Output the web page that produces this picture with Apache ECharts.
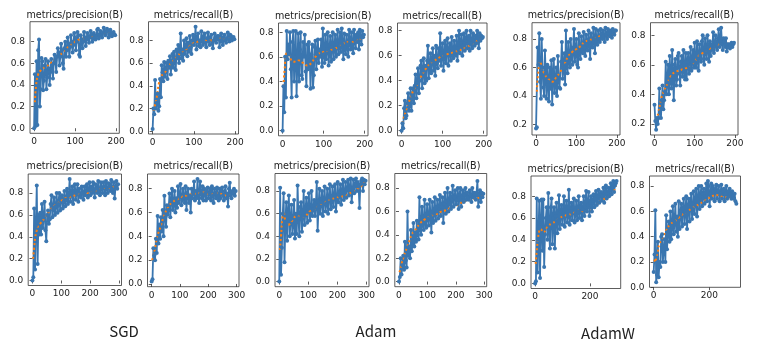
<!DOCTYPE html>
<html>
<head>
<meta charset="utf-8">
<script src="https://cdn.jsdelivr.net/npm/echarts@6/dist/echarts.min.js"></script>
<style>
  html, body { margin: 0; padding: 0; background: #fff; }
  #chart { width: 760px; height: 352px; }
</style>
</head>
<body>
<div id="chart"></div>
<script>
const ep200 = [0,2,4,6,8,10,12,14,16,18,20,22,24,26,28,30,32,34,36,38,40,42,44,46,48,50,52,54,56,58,60,62,64,66,68,70,72,74,76,78,80,82,84,86,88,90,92,94,96,98,100,102,104,106,108,110,112,114,116,118,120,122,124,126,128,130,132,134,136,138,140,142,144,146,148,150,152,154,156,158,160,162,164,166,168,170,172,174,176,178,180,182,184,186,188,190,192,194,196,198]
const ep300 = [0,3,6,9,12,15,18,21,24,27,30,33,36,39,42,45,48,51,54,57,60,63,66,69,72,75,78,81,84,87,90,93,96,99,102,105,108,111,114,117,120,123,126,129,132,135,138,141,144,147,150,153,156,159,162,165,168,171,174,177,180,183,186,189,192,195,198,201,204,207,210,213,216,219,222,225,228,231,234,237,240,243,246,249,252,255,258,261,264,267,270,273,276,279,282,285,288,291,294,297]
// epochs for the smoothed (orange) curve
const sm200 = [2,5,10,15,20,30,40,50,60,70,80,90,100,110,120,130,140,150,160,170,180,190,198]
const sm300 = [2,6,10,15,20,30,45,60,75,90,105,120,135,150,165,180,195,210,225,240,255,270,285,295]

// SGD, 200 epochs
const sgdPrecA = [0.00,0.50,0.02,0.62,0.03,0.72,0.82,0.20,0.36,0.65,
  0.62,0.35,0.44,0.58,0.64,0.36,0.47,0.62,0.55,0.40,
  0.52,0.64,0.58,0.46,0.60,0.68,0.63,0.52,0.66,0.74,
  0.70,0.58,0.66,0.78,0.72,0.60,0.55,0.74,0.80,0.66,
  0.72,0.84,0.78,0.66,0.75,0.86,0.80,0.70,0.77,0.88,
  0.84,0.72,0.80,0.89,0.86,0.68,0.66,0.86,0.82,0.74,
  0.80,0.89,0.84,0.76,0.82,0.88,0.85,0.79,0.84,0.90,
  0.87,0.80,0.83,0.88,0.86,0.82,0.85,0.91,0.92,0.83,
  0.87,0.90,0.86,0.84,0.88,0.93,0.90,0.86,0.89,0.92,
  0.90,0.84,0.87,0.91,0.88,0.85,0.87,0.89,0.87,0.86]
const sgdPrecASm = [0.24,0.40,0.50,0.53,0.55,0.57,0.60,0.63,0.67,0.70,0.74,0.77,0.80,0.82,0.83,0.84,0.84,0.85,0.86,0.88,0.88,0.87,0.865]
const sgdRecA = [0.02,0.20,0.15,0.45,0.20,0.25,0.33,0.18,0.22,0.46,
  0.30,0.58,0.52,0.44,0.61,0.48,0.55,0.60,0.46,0.62,
  0.56,0.66,0.50,0.60,0.68,0.56,0.70,0.62,0.54,0.72,
  0.64,0.76,0.60,0.70,0.86,0.64,0.72,0.62,0.80,0.68,
  0.74,0.82,0.66,0.78,0.70,0.84,0.74,0.68,0.80,0.85,
  0.76,0.80,0.92,0.72,0.82,0.86,0.75,0.80,0.74,0.88,
  0.80,0.76,0.84,0.86,0.78,0.74,0.82,0.87,0.79,0.76,
  0.83,0.85,0.77,0.73,0.80,0.86,0.82,0.78,0.84,0.81,
  0.84,0.74,0.80,0.86,0.79,0.76,0.83,0.85,0.80,0.78,
  0.82,0.87,0.81,0.79,0.85,0.84,0.80,0.82,0.83,0.81]
const sgdRecASm = [0.18,0.22,0.30,0.42,0.48,0.52,0.58,0.62,0.66,0.70,0.72,0.75,0.78,0.79,0.80,0.80,0.80,0.81,0.82,0.82,0.82,0.82,0.81]
// Adam, 200 epochs
const adamPrecA = [0.00,0.36,0.15,0.60,0.27,0.81,0.58,0.70,0.62,0.80,
  0.50,0.27,0.72,0.81,0.40,0.60,0.81,0.28,0.55,0.79,
  0.40,0.66,0.80,0.45,0.42,0.72,0.60,0.78,0.48,0.36,
  0.70,0.50,0.72,0.58,0.34,0.62,0.70,0.35,0.45,0.68,
  0.73,0.50,0.62,0.74,0.55,0.66,0.60,0.74,0.52,0.83,
  0.62,0.55,0.78,0.58,0.66,0.80,0.53,0.64,0.77,0.56,
  0.68,0.80,0.58,0.66,0.78,0.60,0.70,0.82,0.62,0.68,
  0.80,0.64,0.83,0.70,0.58,0.79,0.66,0.62,0.78,0.70,
  0.60,0.82,0.72,0.66,0.80,0.70,0.63,0.82,0.74,0.67,
  0.78,0.72,0.80,0.66,0.82,0.76,0.70,0.81,0.76,0.78]
const adamPrecASm = [0.36,0.50,0.63,0.62,0.58,0.56,0.57,0.55,0.53,0.55,0.60,0.63,0.64,0.65,0.66,0.67,0.69,0.71,0.72,0.72,0.73,0.75,0.77]
const adamRecA = [0.00,0.06,0.02,0.18,0.24,0.10,0.12,0.22,0.30,0.16,
  0.20,0.34,0.16,0.28,0.34,0.22,0.36,0.45,0.26,0.38,
  0.50,0.30,0.40,0.52,0.56,0.34,0.48,0.58,0.38,0.52,
  0.40,0.56,0.68,0.42,0.50,0.62,0.46,0.56,0.66,0.48,
  0.60,0.44,0.68,0.54,0.50,0.66,0.56,0.78,0.52,0.62,
  0.70,0.48,0.60,0.72,0.54,0.66,0.74,0.52,0.64,0.70,
  0.56,0.75,0.60,0.58,0.72,0.62,0.60,0.76,0.56,0.66,
  0.80,0.62,0.70,0.77,0.60,0.68,0.78,0.64,0.72,0.80,
  0.66,0.74,0.76,0.64,0.80,0.70,0.66,0.78,0.72,0.68,
  0.76,0.70,0.80,0.74,0.66,0.78,0.72,0.76,0.74,0.75]
const adamRecASm = [0.06,0.10,0.15,0.20,0.25,0.33,0.38,0.45,0.50,0.54,0.56,0.58,0.60,0.61,0.62,0.63,0.64,0.66,0.67,0.69,0.71,0.73,0.75]
// AdamW, 200 epochs
const adamwPrecA = [0.17,0.18,0.74,0.62,0.84,0.50,0.38,0.80,0.60,0.46,
  0.40,0.72,0.56,0.38,0.62,0.50,0.36,0.60,0.45,0.65,
  0.34,0.55,0.66,0.42,0.48,0.60,0.40,0.68,0.52,0.46,
  0.45,0.64,0.78,0.52,0.60,0.70,0.48,0.86,0.62,0.56,
  0.78,0.64,0.60,0.80,0.68,0.62,0.74,0.87,0.64,0.70,
  0.80,0.62,0.60,0.84,0.70,0.66,0.82,0.72,0.70,0.85,
  0.74,0.68,0.83,0.76,0.72,0.86,0.78,0.66,0.84,0.76,
  0.74,0.88,0.80,0.70,0.87,0.78,0.76,0.86,0.80,0.78,
  0.87,0.81,0.80,0.86,0.82,0.78,0.88,0.83,0.80,0.87,
  0.84,0.82,0.86,0.84,0.81,0.87,0.85,0.83,0.86,0.86]
const adamwPrecASm = [0.43,0.55,0.64,0.60,0.56,0.52,0.50,0.53,0.57,0.62,0.68,0.71,0.73,0.75,0.78,0.79,0.80,0.81,0.82,0.82,0.83,0.84,0.85]
const adamwRecA = [0.33,0.22,0.16,0.24,0.20,0.24,0.44,0.28,0.24,0.36,
  0.46,0.30,0.36,0.42,0.62,0.40,0.48,0.60,0.40,0.66,
  0.50,0.44,0.70,0.52,0.36,0.60,0.64,0.46,0.50,0.66,
  0.68,0.54,0.46,0.62,0.66,0.52,0.70,0.56,0.50,0.68,
  0.50,0.62,0.68,0.54,0.60,0.72,0.56,0.62,0.70,0.58,
  0.75,0.60,0.58,0.76,0.64,0.56,0.74,0.66,0.62,0.76,
  0.80,0.64,0.60,0.78,0.70,0.64,0.80,0.72,0.62,0.76,
  0.66,0.74,0.70,0.82,0.68,0.72,0.80,0.74,0.70,0.78,
  0.84,0.72,0.76,0.85,0.74,0.70,0.78,0.76,0.72,0.78,
  0.69,0.74,0.72,0.74,0.71,0.73,0.75,0.72,0.74,0.75]
const adamwRecASm = [0.23,0.24,0.28,0.35,0.40,0.46,0.52,0.55,0.56,0.57,0.58,0.60,0.62,0.66,0.68,0.70,0.71,0.72,0.74,0.77,0.75,0.73,0.74]

// SGD, 300 epochs
const sgdPrecB = [0.00,0.03,0.66,0.10,0.50,0.87,0.15,0.60,0.42,0.62,
  0.42,0.70,0.48,0.58,0.72,0.46,0.36,0.60,0.64,0.52,
  0.56,0.70,0.78,0.58,0.66,0.76,0.60,0.68,0.80,0.62,
  0.70,0.80,0.64,0.76,0.78,0.66,0.72,0.82,0.68,0.74,
  0.84,0.70,0.78,0.93,0.72,0.80,0.86,0.70,0.82,0.88,
  0.74,0.80,0.88,0.72,0.84,0.78,0.76,0.86,0.80,0.74,
  0.86,0.78,0.82,0.88,0.76,0.84,0.90,0.78,0.86,0.80,
  0.90,0.82,0.76,0.88,0.84,0.80,0.91,0.82,0.78,0.90,
  0.84,0.80,0.90,0.86,0.78,0.91,0.84,0.80,0.89,0.86,
  0.82,0.92,0.84,0.80,0.90,0.75,0.86,0.91,0.84,0.88]
const sgdPrecBSm = [0.20,0.30,0.40,0.46,0.50,0.53,0.58,0.64,0.68,0.71,0.74,0.76,0.77,0.78,0.79,0.80,0.80,0.81,0.82,0.84,0.85,0.85,0.86,0.88]
const sgdRecB = [0.02,0.04,0.30,0.24,0.20,0.38,0.26,0.57,0.34,0.50,
  0.38,0.56,0.44,0.62,0.40,0.74,0.56,0.48,0.66,0.58,
  0.62,0.76,0.56,0.70,0.80,0.62,0.66,0.78,0.60,0.72,
  0.64,0.82,0.68,0.74,0.84,0.66,0.70,0.80,0.72,0.68,
  0.82,0.62,0.76,0.80,0.68,0.74,0.60,0.80,0.72,0.76,
  0.86,0.70,0.78,0.72,0.88,0.74,0.68,0.86,0.76,0.72,
  0.82,0.70,0.80,0.76,0.70,0.78,0.81,0.72,0.76,0.80,
  0.70,0.82,0.74,0.68,0.80,0.76,0.72,0.81,0.74,0.70,
  0.80,0.72,0.78,0.81,0.74,0.70,0.78,0.82,0.72,0.76,
  0.65,0.80,0.85,0.74,0.72,0.78,0.76,0.80,0.74,0.78]
const sgdRecBSm = [0.20,0.24,0.28,0.34,0.40,0.47,0.58,0.65,0.69,0.71,0.73,0.74,0.75,0.76,0.76,0.77,0.76,0.75,0.76,0.76,0.75,0.74,0.76,0.77]
// Adam, 300 epochs
const adamPrecB = [0.00,0.83,0.06,0.30,0.60,0.78,0.17,0.52,0.70,0.36,
  0.62,0.76,0.40,0.55,0.68,0.42,0.50,0.72,0.38,0.60,
  0.42,0.85,0.56,0.40,0.66,0.70,0.44,0.58,0.80,0.50,
  0.62,0.74,0.52,0.66,0.78,0.54,0.60,0.80,0.58,0.64,
  0.72,0.58,0.68,0.88,0.45,0.66,0.82,0.60,0.70,0.80,
  0.58,0.72,0.84,0.62,0.68,0.82,0.60,0.74,0.86,0.64,
  0.70,0.84,0.66,0.76,0.86,0.62,0.72,0.88,0.70,0.76,
  0.86,0.68,0.80,0.90,0.72,0.78,0.88,0.74,0.82,0.90,
  0.76,0.84,0.91,0.70,0.80,0.90,0.78,0.86,0.91,0.80,
  0.88,0.84,0.65,0.86,0.89,0.91,0.80,0.90,0.86,0.89]
const adamPrecBSm = [0.28,0.40,0.55,0.62,0.55,0.50,0.54,0.58,0.57,0.58,0.62,0.64,0.67,0.70,0.72,0.73,0.74,0.75,0.76,0.78,0.79,0.82,0.85,0.88]
const adamRecB = [0.00,0.04,0.20,0.06,0.14,0.22,0.10,0.34,0.18,0.12,
  0.60,0.22,0.30,0.20,0.44,0.26,0.34,0.50,0.30,0.42,
  0.34,0.52,0.40,0.36,0.72,0.44,0.40,0.64,0.48,0.44,
  0.70,0.50,0.46,0.66,0.54,0.48,0.70,0.56,0.42,0.68,
  0.50,0.58,0.72,0.52,0.60,0.70,0.54,0.62,0.74,0.56,
  0.64,0.72,0.50,0.66,0.76,0.58,0.64,0.80,0.60,0.68,
  0.76,0.62,0.70,0.82,0.64,0.72,0.78,0.66,0.70,0.80,
  0.62,0.74,0.80,0.64,0.72,0.78,0.68,0.74,0.80,0.70,
  0.76,0.72,0.70,0.78,0.74,0.68,0.80,0.72,0.76,0.74,
  0.70,0.76,0.86,0.64,0.74,0.78,0.68,0.76,0.72,0.75]
const adamRecBSm = [0.08,0.12,0.16,0.20,0.24,0.30,0.40,0.45,0.50,0.53,0.55,0.57,0.58,0.60,0.61,0.63,0.64,0.66,0.68,0.69,0.70,0.71,0.72,0.73]
// AdamW, 300 epochs
const adamwPrecB = [0.00,0.02,0.78,0.10,0.40,0.76,0.05,0.55,0.77,0.30,
  0.77,0.15,0.45,0.60,0.70,0.40,0.83,0.50,0.32,0.70,
  0.78,0.36,0.60,0.70,0.32,0.62,0.74,0.46,0.58,0.81,
  0.50,0.66,0.72,0.54,0.64,0.80,0.52,0.68,0.76,0.56,
  0.62,0.86,0.54,0.66,0.74,0.58,0.70,0.78,0.56,0.64,
  0.76,0.58,0.66,0.80,0.60,0.70,0.74,0.58,0.68,0.80,
  0.62,0.70,0.85,0.66,0.72,0.84,0.62,0.74,0.80,0.66,
  0.76,0.82,0.70,0.78,0.85,0.72,0.80,0.86,0.74,0.82,
  0.84,0.76,0.80,0.88,0.74,0.84,0.90,0.78,0.82,0.88,
  0.80,0.86,0.92,0.82,0.88,0.94,0.84,0.90,0.92,0.94]
const adamwPrecBSm = [0.18,0.30,0.40,0.48,0.50,0.47,0.52,0.55,0.57,0.60,0.62,0.63,0.64,0.66,0.67,0.66,0.66,0.68,0.72,0.76,0.78,0.80,0.84,0.90]
const adamwRecB = [0.12,0.26,0.61,0.04,0.10,0.36,0.08,0.20,0.16,0.40,
  0.42,0.20,0.30,0.38,0.20,0.57,0.30,0.44,0.52,0.36,
  0.60,0.38,0.48,0.64,0.42,0.52,0.66,0.44,0.56,0.40,
  0.68,0.46,0.58,0.66,0.48,0.62,0.70,0.50,0.60,0.72,
  0.46,0.64,0.70,0.52,0.66,0.74,0.54,0.62,0.76,0.58,
  0.68,0.78,0.56,0.70,0.80,0.62,0.72,0.80,0.64,0.74,
  0.78,0.66,0.72,0.82,0.68,0.84,0.80,0.64,0.74,0.82,
  0.70,0.80,0.76,0.68,0.78,0.81,0.70,0.76,0.80,0.68,
  0.74,0.81,0.70,0.76,0.78,0.68,0.74,0.80,0.70,0.76,
  0.72,0.78,0.74,0.70,0.76,0.72,0.70,0.74,0.68,0.66]
const adamwRecBSm = [0.22,0.20,0.24,0.28,0.34,0.38,0.45,0.50,0.52,0.55,0.58,0.60,0.62,0.64,0.66,0.68,0.70,0.72,0.73,0.72,0.71,0.71,0.70,0.68]

const yTicks = [0, 0.2, 0.4, 0.6, 0.8]
const yTicksW = [0.2, 0.4, 0.6, 0.8]
const xTicks200 = [0, 100, 200]
const xTicks300 = [0, 100, 200, 300]
const xTicks300W = [0, 200]

const PREC = 'metrics/precision(B)'
const REC = 'metrics/recall(B)'
const BLUE = '#3a76b0'
const ORANGE = '#ff7f0e'

// box = [left, top, width, height] of each subplot frame
const panels = [
  { t: PREC, ep: ep200, v: sgdPrecA, sx: sm200, s: sgdPrecASm, box: [30, 21.7, 89.3, 111.6], x: [-10, 208], y: [-0.047, 0.985], yt: yTicks, xt: xTicks200, ty: 15 },
  { t: REC, ep: ep200, v: sgdRecA, sx: sm200, s: sgdRecASm, box: [148.5, 21.7, 90, 112.3], x: [-10, 208], y: [-0.025, 0.965], yt: yTicks, xt: xTicks200, ty: 15 },
  { t: PREC, ep: ep200, v: adamPrecA, sx: sm200, s: adamPrecASm, box: [278.5, 23, 89.5, 112.8], x: [-10, 208], y: [-0.042, 0.875], yt: yTicks, xt: xTicks200, ty: 16.5 },
  { t: REC, ep: ep200, v: adamRecA, sx: sm200, s: adamRecASm, box: [397.5, 23, 89.5, 112.8], x: [-10, 208], y: [-0.041, 0.861], yt: yTicks, xt: xTicks200, ty: 16.5 },
  { t: PREC, ep: ep200, v: adamwPrecA, sx: sm200, s: adamwPrecASm, box: [532, 22.7, 88, 112.3], x: [-10, 208], y: [0.125, 0.915], yt: yTicksW, xt: xTicks200, ty: 15.5 },
  { t: REC, ep: ep200, v: adamwRecA, sx: sm200, s: adamwRecASm, box: [650.5, 22.7, 87.5, 112.3], x: [-10, 208], y: [0.125, 0.885], yt: yTicksW, xt: xTicks200, ty: 15.5 },
  { t: PREC, ep: ep300, v: sgdPrecB, sx: sm300, s: sgdPrecBSm, box: [28.2, 174, 93.3, 111.5], x: [-14.7, 308.7], y: [-0.046, 0.975], yt: yTicks, xt: xTicks300, ty: 166.5 },
  { t: REC, ep: ep300, v: sgdRecB, sx: sm300, s: sgdRecBSm, box: [147.5, 174, 91.5, 112.7], x: [-14.7, 308.7], y: [-0.023, 0.923], yt: yTicks, xt: xTicks300, ty: 166.5 },
  { t: PREC, ep: ep300, v: adamPrecB, sx: sm300, s: adamPrecBSm, box: [275, 173.5, 94, 113.2], x: [-14.7, 308.7], y: [-0.045, 0.955], yt: yTicks, xt: xTicks300, ty: 166.5 },
  { t: REC, ep: ep300, v: adamRecB, sx: sm300, s: adamRecBSm, box: [394.8, 173.5, 91.9, 113.2], x: [-14.7, 308.7], y: [-0.044, 0.924], yt: yTicks, xt: xTicks300, ty: 166.5 },
  { t: PREC, ep: ep300, v: adamwPrecB, sx: sm300, s: adamwPrecBSm, box: [531, 176, 89.7, 112.5], x: [-15, 312], y: [-0.047, 0.987], yt: yTicks, xt: xTicks300W, ty: 169 },
  { t: REC, ep: ep300, v: adamwRecB, sx: sm300, s: adamwRecBSm, box: [649.5, 176, 91, 111.3], x: [-15, 312], y: [0, 0.88], yt: yTicks, xt: xTicks300W, ty: 169 },
]

const optLabels = [
  { text: 'SGD', x: 124, y: 331 },
  { text: 'Adam', x: 376, y: 331 },
  { text: 'AdamW', x: 608, y: 333 },
]

const grid = [], xAxis = [], yAxis = [], series = [], graphic = []
panels.forEach((p, i) => {
  const [l, t, w, h] = p.box
  grid.push({ left: l, top: t, width: w, height: h, show: true, borderColor: '#333', borderWidth: 0.8, backgroundColor: '#fff' })
  xAxis.push({
    type: 'value', gridIndex: i, min: p.x[0], max: p.x[1],
    axisLine: { show: false },
    axisTick: { show: true, customValues: p.xt, length: 3, lineStyle: { color: '#333', width: 0.8 } },
    axisLabel: { customValues: p.xt, fontSize: 9, color: '#222', margin: 4, fontFamily: 'DejaVu Sans' },
    splitLine: { show: false },
  })
  yAxis.push({
    type: 'value', gridIndex: i, min: p.y[0], max: p.y[1],
    axisLine: { show: false },
    axisTick: { show: true, customValues: p.yt, length: 3, lineStyle: { color: '#333', width: 0.8 } },
    axisLabel: { customValues: p.yt, fontSize: 9, color: '#222', margin: 5, fontFamily: 'DejaVu Sans', formatter: v => v.toFixed(1) },
    splitLine: { show: false },
  })
  series.push({
    type: 'line', xAxisIndex: i, yAxisIndex: i,
    data: p.ep.map((x, k) => [x, p.v[k]]),
    symbol: 'circle', symbolSize: 4, showSymbol: true, showAllSymbol: true,
    lineStyle: { color: BLUE, width: 1.8 },
    itemStyle: { color: BLUE },
    animation: false, silent: true,
  })
  series.push({
    type: 'line', xAxisIndex: i, yAxisIndex: i,
    data: p.sx.map((x, k) => [x, p.s[k]]),
    symbol: 'none', smooth: true, z: 3,
    lineStyle: { color: ORANGE, width: 2, type: [2, 2.5] },
    animation: false, silent: true,
  })
  graphic.push({
    type: 'text', x: l + w / 2, y: p.ty,
    style: { text: p.t, align: 'center', verticalAlign: 'middle', font: '9.6px "DejaVu Sans"', fill: '#222' },
  })
})
optLabels.forEach(o => {
  graphic.push({
    type: 'text', x: o.x, y: o.y,
    style: { text: o.text, align: 'center', verticalAlign: 'middle', font: '15px "Noto Sans CJK SC", "Noto Sans", sans-serif', fill: '#222' },
  })
})

const chart = echarts.init(document.getElementById('chart'), null, { renderer: 'canvas' })
chart.setOption({ backgroundColor: '#fff', animation: false, grid, xAxis, yAxis, series, graphic })
</script>
</body>
</html>
